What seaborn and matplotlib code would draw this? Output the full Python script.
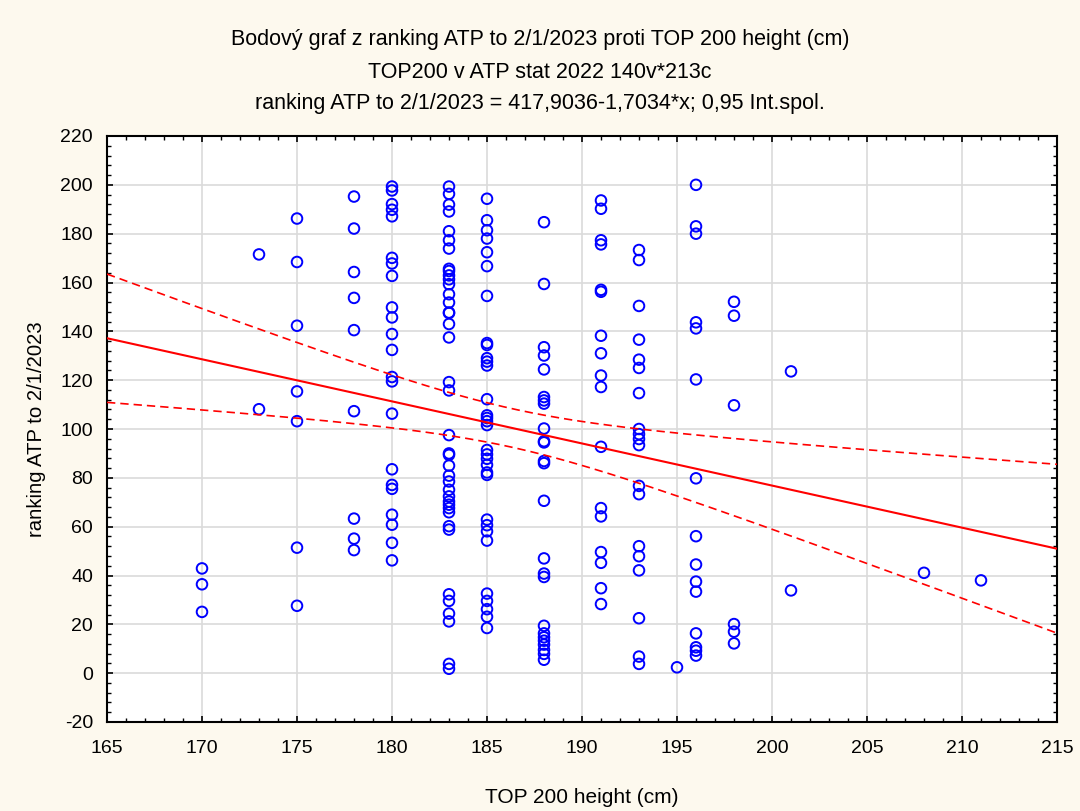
import numpy as np
import pandas as pd
import matplotlib
matplotlib.use("Agg")
import matplotlib.pyplot as plt
from matplotlib.ticker import MultipleLocator
import seaborn as sns

# ---- data ----
h170 = [42.9, 36.4, 25.1]
h173 = [171.5, 108.1]
h175 = [186.2, 168.4, 142.3, 115.4, 103.2, 51.4, 27.6]
h178 = [195.2, 182.1, 164.3, 153.7, 140.5, 107.3, 63.3, 55.1, 50.4]
h180 = [199.3, 197.7, 192.1, 189.8, 187.1, 170.1, 167.8, 162.7, 149.8, 145.7,
        138.9, 132.4, 121.3, 119.5, 106.3, 83.5, 77.1, 75.5, 64.9, 60.8, 53.4, 46.2]
h183 = [199.3, 196.3, 191.9, 189.1, 181.0, 177.3, 173.9, 165.6, 164.7, 162.9,
        161.3, 159.3, 155.2, 151.8, 147.7, 147.5, 143.0, 137.5, 119.2, 115.8,
        97.5, 90.0, 89.4, 85.0, 80.9, 78.5, 75.1, 72.4, 70.3, 69.0,
        67.6, 65.9, 60.2, 58.8, 32.3, 29.6, 24.4, 21.2, 3.8, 1.8]
h185 = [194.3, 185.5, 181.4, 178.0, 172.4, 166.7, 154.5, 135.2, 134.4, 129.0,
        127.6, 126.0, 112.2, 105.6, 104.5, 103.2, 101.6, 91.4, 89.6, 87.8,
        85.3, 82.2, 81.2, 62.9, 60.6, 58.1, 54.3, 32.6, 29.6, 26.2, 23.1, 18.5]
h188 = [184.7, 159.4, 133.5, 130.1, 124.4, 113.1, 111.7, 110.4, 100.2, 95.0,
        94.5, 86.9, 86.0, 70.6, 47.0, 40.8, 39.4, 19.4, 16.3, 14.7, 13.3, 11.7,
        9.5, 7.9, 5.5]
h191 = [193.6, 190.2, 177.3, 175.6, 157.0, 156.2, 138.2, 131.0, 121.9, 117.2,
        92.7, 67.6, 64.2, 49.6, 45.2, 34.8, 28.3]
h193 = [173.3, 169.2, 150.4, 136.6, 128.4, 125.0, 114.7, 100.0, 97.9, 95.9,
        93.4, 76.7, 73.3, 52.0, 47.9, 42.1, 22.5, 6.8, 3.8]
h195 = [2.4]
h196 = [200.0, 183.0, 180.0, 143.7, 141.2, 120.3, 79.8, 56.1, 44.5, 37.5,
        33.4, 16.3, 10.6, 9.2, 7.2]
h198 = [152.1, 146.4, 109.7, 20.1, 17.0, 12.2]
h201 = [123.6, 33.9]
h208 = [41.1]
h211 = [38.0]

heights = [170, 173, 175, 178, 180, 183, 185, 188, 191, 193, 195, 196, 198, 201, 208, 211]
rankings = [h170, h173, h175, h178, h180, h183, h185, h188, h191, h193, h195,
            h196, h198, h201, h208, h211]

x_ticks = [165, 170, 175, 180, 185, 190, 195, 200, 205, 210, 215]
y_ticks = [-20, 0, 20, 40, 60, 80, 100, 120, 140, 160, 180, 200, 220]

title_lines = [
    "Bodový graf z ranking ATP to 2/1/2023 proti TOP 200 height (cm)",
    "TOP200 v ATP stat 2022 140v*213c",
    "ranking ATP to 2/1/2023 = 417,9036-1,7034*x; 0,95 Int.spol.",
]
x_label = "TOP 200 height (cm)"
y_label = "ranking ATP to 2/1/2023"

df = pd.DataFrame({
    "height": np.concatenate([[h] * len(r) for h, r in zip(heights, rankings)]).astype(float),
    "rank": np.concatenate([np.asarray(r, float) for r in rankings]),
})

# ---- regression and 95% confidence band ----
xv = df["height"].to_numpy()
yv = df["rank"].to_numpy()
n = len(xv)
b1, b0 = np.polyfit(xv, yv, 1)
resid = yv - (b0 + b1 * xv)
s = np.sqrt(np.sum(resid ** 2) / (n - 2))
sxx = np.sum((xv - xv.mean()) ** 2)
tval = 1.972
xg = np.linspace(x_ticks[0], x_ticks[-1], 200)
yg = b0 + b1 * xg
se = s * np.sqrt(1.0 / n + (xg - xv.mean()) ** 2 / sxx)
band = pd.DataFrame({"x": xg, "fit": yg, "lo": yg - tval * se, "hi": yg + tval * se})

# ---- drawing ----
sns.set_theme(style="white")
plt.rcParams["font.family"] = ["Liberation Sans", "DejaVu Sans"]
plt.rcParams["axes.unicode_minus"] = False
plt.rcParams["text.color"] = "black"
plt.rcParams["axes.labelcolor"] = "black"
plt.rcParams["xtick.color"] = "black"
plt.rcParams["ytick.color"] = "black"

bg = "#FDF9EE"
fig = plt.figure(figsize=(10.8, 8.11), dpi=100, facecolor=bg)
ax = fig.add_axes([107 / 1080, 1 - 722 / 811, 950 / 1080, 586 / 811])
ax.set_facecolor("white")

sns.scatterplot(data=df, x="height", y="rank", ax=ax, marker="o", s=58,
                facecolors="none", edgecolor="#0000FF", linewidth=1.4, zorder=3)
sns.lineplot(data=band, x="x", y="fit", ax=ax, color="#FF0000", linewidth=1.5, zorder=4)
sns.lineplot(data=band, x="x", y="lo", ax=ax, color="#FF0000", linewidth=1.2,
             linestyle=(0, (5, 3)), zorder=4)
sns.lineplot(data=band, x="x", y="hi", ax=ax, color="#FF0000", linewidth=1.2,
             linestyle=(0, (5, 3)), zorder=4)

ax.set_xlim(x_ticks[0], x_ticks[-1])
ax.set_ylim(y_ticks[0], y_ticks[-1])
ax.set_xticks(x_ticks)
ax.set_yticks(y_ticks)
ax.xaxis.set_minor_locator(MultipleLocator(1))
ax.yaxis.set_minor_locator(MultipleLocator(4))
ax.grid(True, which="major", color="#DADADA", linewidth=1.2, zorder=0)
ax.set_axisbelow(True)
ax.tick_params(which="major", direction="in", length=4, width=1.2, colors="black",
               labelcolor="black", top=True, right=True, bottom=True, left=True,
               labelsize=14)
ax.tick_params(axis="x", which="major", pad=13)
ax.tick_params(axis="y", which="major", pad=10)
ax.tick_params(which="minor", direction="in", length=3, width=1.0, colors="black",
               top=True, right=True, bottom=True, left=True)
for sp in ax.spines.values():
    sp.set_color("black")
    sp.set_linewidth(1.5)
    sp.set_visible(True)

ax.set_xlabel(x_label, fontsize=15, labelpad=22, color="black")
ax.set_ylabel(y_label, fontsize=14.6, labelpad=10, color="black")

for i, t in enumerate(title_lines):
    fig.text(0.5, 1 - (40 + 32 * i) / 811, t, ha="center", va="center",
             fontsize=15.5, color="black")

fig.savefig("out.png", dpi=100, facecolor=bg)
